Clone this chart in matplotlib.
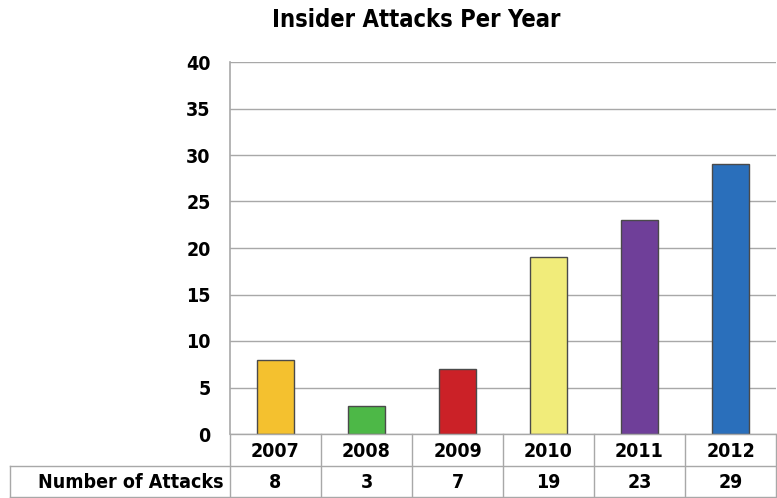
import matplotlib
matplotlib.use("Agg")
import matplotlib.pyplot as plt
from matplotlib.lines import Line2D

years = ["2007", "2008", "2009", "2010", "2011", "2012"]
attacks = [8, 3, 7, 19, 23, 29]
colors = ["#F4C12F", "#4DB847", "#CB2127", "#F1EC7A", "#6F3F99", "#2A6FBB"]
yticks = [0, 5, 10, 15, 20, 25, 30, 35, 40]
row_label = "Number of Attacks"
title = "Insider Attacks Per Year"

fp = dict(family="DejaVu Sans", stretch="condensed", weight="bold")

W, H = 777, 498
fig = plt.figure(figsize=(W / 100, H / 100), dpi=100)
L, R, T, B = 230, 776, 62, 434
ax = fig.add_axes([L / W, 1 - B / H, (R - L) / W, (B - T) / H])

x = list(range(len(years)))
ax.bar(x, attacks, width=0.41, color=colors, edgecolor="#4A4A4A", linewidth=1.0, zorder=3)
ax.set_xlim(-0.5, len(years) - 0.5)
ax.set_ylim(0, 40)
ax.set_yticks(yticks)
ax.set_yticklabels([str(v) for v in yticks], fontsize=14, **fp)
ax.tick_params(axis="y", length=0, pad=14)
ax.set_xticks([])
ax.yaxis.grid(True, color="#A8A8A8", linewidth=1.0, zorder=0)
for s in ["top", "right", "bottom"]:
    ax.spines[s].set_visible(False)
ax.spines["left"].set_color("#A8A8A8")
ax.spines["left"].set_linewidth(1.2)

fig.text(416 / W, 1 - 20 / H, title, ha="center", va="center", fontsize=17, **fp)

lc = "#A8A8A8"
row1_top, row1_bot, row2_bot = 434, 466, 497
tab_left = 10
colw = (R - L) / len(years)

def fx(px):
    return px / W

def fy(py):
    return 1 - py / H

def hline(x0, x1, y):
    fig.add_artist(Line2D([fx(x0), fx(x1)], [fy(y), fy(y)], color=lc, linewidth=1.0))

def vline(xp, y0, y1):
    fig.add_artist(Line2D([fx(xp), fx(xp)], [fy(y0), fy(y1)], color=lc, linewidth=1.0))

hline(L, R, row1_top)
hline(tab_left, R, row1_bot)
hline(tab_left, R, row2_bot)
for i in range(len(years) + 1):
    vline(L + i * colw, row1_top, row2_bot)
vline(tab_left, row1_bot, row2_bot)

for i, (yr, v) in enumerate(zip(years, attacks)):
    cx = L + (i + 0.5) * colw
    fig.text(fx(cx), fy((row1_top + row1_bot) / 2 + 1), yr, ha="center", va="center", fontsize=14, **fp)
    fig.text(fx(cx), fy((row1_bot + row2_bot) / 2 + 1), str(v), ha="center", va="center", fontsize=14, **fp)
fig.text(fx(L - 6), fy((row1_bot + row2_bot) / 2 + 1), row_label, ha="right", va="center", fontsize=14, **fp)

fig.savefig("out.png", dpi=100)
